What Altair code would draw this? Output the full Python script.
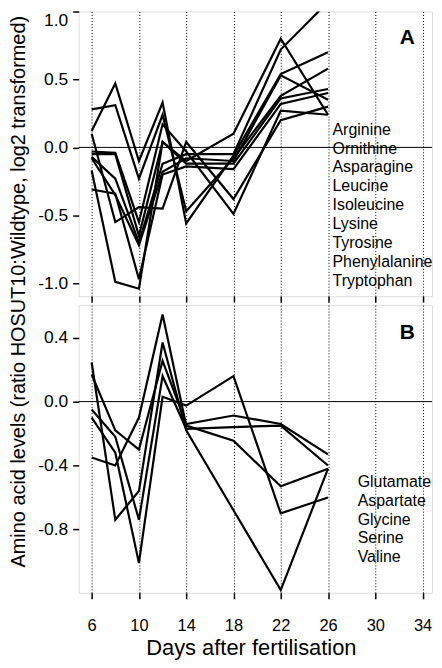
import altair as alt
import pandas as pd

days = [6, 8, 10, 12, 14, 18, 22, 26]

names_a = ["Arginine", "Ornithine", "Asparagine", "Leucine", "Isoleucine",
           "Lysine", "Tyrosine", "Phenylalanine", "Tryptophan"]
values_a = [
    [0.12, 0.47, -0.10, 0.33, -0.56, -0.06, 0.54, 0.70],
    [0.28, 0.31, -0.23, 0.24, -0.47, -0.08, 0.38, 0.58],
    [0.10, -0.55, -0.44, -0.45, 0.04, -0.38, 0.20, 0.30],
    [-0.03, -0.04, -0.55, 0.17, -0.03, -0.49, 0.27, 0.24],
    [-0.05, -0.05, -0.65, 0.04, -0.10, 0.10, 0.80, 0.24],
    [-0.07, -0.23, -0.70, -0.12, -0.05, -0.05, 0.72, 1.07],
    [-0.08, -0.35, -0.72, -0.18, -0.08, -0.10, 0.53, 0.35],
    [-0.17, -0.99, -1.04, 0.04, -0.12, -0.12, 0.36, 0.43],
    [-0.31, -0.34, -0.97, -0.20, -0.14, -0.16, 0.32, 0.40],
]

names_b = ["Glutamate", "Aspartate", "Glycine", "Serine", "Valine"]
values_b = [
    [-0.35, -0.40, -0.10, 0.545, -0.15, -0.245, -0.53, -0.42],
    [0.245, -0.74, -0.56, 0.37, -0.18, -0.68, -1.18, -0.42],
    [0.17, -0.18, -0.30, 0.255, -0.14, -0.087, -0.14, -0.33],
    [-0.05, -0.22, -0.74, 0.16, -0.17, -0.16, -0.15, -0.40],
    [-0.10, -0.32, -1.01, 0.03, -0.025, 0.16, -0.70, -0.60],
]

x_ticks = [6, 10, 14, 18, 22, 26, 30, 34]
y_ticks_a = [-1.0, -0.5, 0.0, 0.5, 1.0]
y_ticks_b = [-0.8, -0.4, 0.0, 0.4]

FONT = "Liberation Sans"


def long_table(names, values):
    rows = []
    for n, vals in zip(names, values):
        for d, v in zip(days, vals):
            rows.append({"series": n, "day": d, "value": v})
    return pd.DataFrame(rows)


df_a = long_table(names_a, values_a)
df_b = long_table(names_b, values_b)
one = pd.DataFrame({"k": [0]})

label_expr = "replace(format(datum.value, '.1f'), '\u2212', '-')"


def x_enc(show_labels):
    axis_kw = dict(values=x_ticks, grid=True, gridDash=[1, 2], gridColor="black",
                   gridWidth=1, gridOpacity=1, domain=False, ticks=True, tickSize=6,
                   tickWidth=1.5, tickColor="black", labelFont=FONT, labelFontSize=16.5,
                   labelColor="black", labelPadding=19, labelOverlap=False,
                   labelFlush=False)
    if show_labels:
        axis_kw.update(title="Days after fertilisation", titleFont=FONT, titleFontSize=22,
                       titleFontWeight="normal", titleColor="black", titleX=173, titleY=62,
                       titleAlign="center", titleBaseline="alphabetic")
    else:
        axis_kw.update(labels=False, title=None)
    return alt.X("day:Q", scale=alt.Scale(domain=[4.9, 34.8], nice=False, zero=False),
                 axis=alt.Axis(**axis_kw))


def y_enc(domain, ticks, title):
    axis_kw = dict(values=ticks, labelExpr=label_expr, grid=False, domain=False,
                   tickSize=6, tickWidth=1.5, tickColor="black", labelFont=FONT,
                   labelFontSize=17.5, labelColor="black", labelPadding=5,
                   labelOverlap=False, labelFlush=True)
    if title:
        axis_kw.update(title=title, titleFont=FONT, titleFontSize=20,
                       titleFontWeight="normal", titleColor="black", titleAngle=270,
                       titleX=-60, titleY=281, titleAlign="center", titleBaseline="middle")
    else:
        axis_kw.update(title=None)
    return alt.Y("value:Q", scale=alt.Scale(domain=domain, nice=False, zero=False),
                 axis=alt.Axis(**axis_kw))


def panel(df, names, domain, ticks, title, show_x, letter, letter_y, lab_x, lab_y, height):
    lines = alt.Chart(df).mark_line(color="black", strokeWidth=2.2, clip=True).encode(
        x=x_enc(show_x),
        y=y_enc(domain, ticks, title),
        detail="series:N",
    )
    zero = alt.Chart(one).mark_rule(color="black", strokeWidth=1).encode(y=alt.datum(0))
    letter_mark = alt.Chart(one).mark_text(
        font=FONT, fontSize=21, fontWeight="bold", color="black"
    ).encode(x=alt.datum(32.7), y=alt.datum(letter_y), text=alt.value(letter))
    labels = alt.Chart(one).mark_text(
        font=FONT, fontSize=16, color="black", align="left", baseline="alphabetic",
        lineHeight=19
    ).encode(x=alt.datum(lab_x), y=alt.datum(lab_y), text=alt.value(names))
    return alt.layer(zero, lines, letter_mark, labels).properties(width=355, height=height)


panel_a = panel(df_a, names_a, [-1.095, 1.0], y_ticks_a,
                "Amino acid levels (ratio HOSUT10:Wildtype, log2 transformed)",
                False, "A", 0.805, 26.38, 0.094, 286)
panel_b = panel(df_b, names_b, [-1.197, 0.604], y_ticks_b, None,
                True, "B", 0.43, 28.51, -0.533, 289)

chart = alt.VConcatChart(
    vconcat=[panel_a, panel_b],
    spacing=9,
    bounds="flush",
    padding={"left": 0, "top": 0, "right": 0, "bottom": 0},
).configure_view(stroke="black", strokeWidth=2).configure(background="white")

chart.save("out.html", embed_options={"renderer": "svg", "actions": False})
